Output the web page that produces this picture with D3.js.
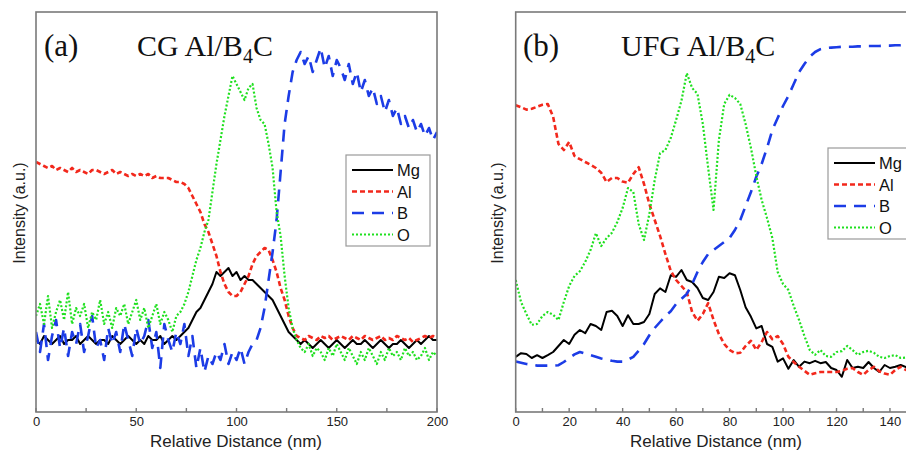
<!DOCTYPE html>
<html><head><meta charset="utf-8">
<script src="https://cdn.jsdelivr.net/npm/d3@7"></script>
<style>html,body{margin:0;padding:0;background:#fff;overflow:hidden}svg{display:block}</style>
</head><body>
<svg id="chart" width="906" height="453"></svg>
<script>
// ---------------- DATA ----------------
const seriesNames = ["Mg", "Al", "B", "O"];
const seriesColors = ["#000000", "#f2281c", "#1c3ce6", "#1fe01f"];

// Panel (a) CG Al/B4C : distance 0..200 nm, step 2 nm
const distA = d3.range(0, 201, 2);
const mgA = [18,17,19,18,17,18,19,17,18,18,19,17,18,19,18,17,18,18,17,19,18,17,18,19,18,17,18,17,19,18,18,19,17,18,19,18,
  19,20,21,23,25,26,28,30,32,35,34,35,36,34,35,33,34,33,33,32,31,30,29,28,26,24,22,20,19,18,
  17,18,17,16,17,18,17,16,17,18,17,16,17,18,17,17,18,17,16,17,18,17,16,17,17,18,17,16,17,18,17,18,19,18,18];
const alA = [62.5,62,61.5,61,61.5,60.5,61,60.5,60,61,60,60.5,60,59.5,60.5,60.5,60,59.5,60,60.5,59.5,60,59.5,59,59.5,59,59.5,59,59.5,58.5,59,58.5,58.5,58.5,58,57.5,
  57.5,57,56,54,52,50,47,45,42,39,35,32,30,29,29,30,32,34,37,39,40,41,40.5,38,35,31,28,24,21,19,
  18.5,18,19,18.5,18,19,18.5,19,18,18.5,19,18.5,18,19,18.5,18,19,18.5,18,18.5,19,18,18.5,18,19,18.5,18,18.5,17.5,18,18.5,19,18.5,19,18.5];
const bA = [20,15,22,13,19,23,16,21,14,20,17,22,15,19,24,16,18,13,21,17,20,15,22,18,14,21,17,19,23,16,20,11,22,18,15,20,
  17,22,14,19,11,16,10,14,12,15,13,17,12,15,13,16,12,15,17,18,21,26,33,40,48,60,72,79,85,88,
  90,87,89,85,88,91,86,89,84,88,86,83,87,82,85,80,83,79,81,77,79,75,78,74,76,72,74,71,73,70,72,69,71,68,70];
const oA = [24,27,22,29,21,25,28,23,30,22,26,24,27,21,25,23,28,22,25,21,26,24,27,22,25,28,23,26,21,24,27,22,25,23,20,24,
  25,27,30,34,38,41,45,48,55,62,68,74,79,84,82,80,78,81,82,76,73,72,67,61,50,44,34,26,21,18,
  16,15,17,14,16,15,13,16,14,17,15,13,16,14,12,15,13,16,14,12,15,13,16,14,15,13,16,14,15,13,14,16,13,15,14];

// Panel (b) UFG Al/B4C : distance 0..150 nm, step 2 nm
const distB = d3.range(0, 151, 2);
const mgB = [13.8,14.7,14.5,13.5,14.2,13.5,14.2,15,16.5,18,17,19.3,20.5,19.7,22,21.5,20.5,25,25.3,24,21.5,24.2,22,22,22.5,24.5,29.5,30.9,30,34.2,33.8,35.5,33,32.5,31,28.5,28,30,33.8,33.5,34.7,34.2,30.5,26.2,23.8,20.9,21.5,17,16.3,12.6,13.4,10.8,13,11.3,12.6,12.2,12.8,12.2,12.5,11,10.5,8.8,13,11,11.3,11,12.5,11,10,11.75,11,11.3,11.75,11.2,11.8,11.5];
const alB = [76.7,76.2,75.6,75.8,76.3,76.8,77,73.8,67,65.5,67.5,64,63.2,62.5,61.8,61,59.8,57.5,58.5,58.5,57.6,57.3,59.5,61.2,57,52,48,44,39.5,35.3,33,31.5,30,25,22.8,24.5,27.2,23,19.5,17,15.5,14.7,14.8,16.5,17.8,15.5,17.5,20,18.2,19,17,13.8,12.5,11.3,10.3,9.3,9.7,10,10,10,10,10.3,10.8,11,10,9.3,10.5,11.3,10.2,9.6,9.3,10.5,11.3,10.5,10.8,11];
const bB = [12.6,12.3,12,11.8,11.6,11.6,11.6,11.6,11.7,12.5,13.5,14.4,15,14.6,14.2,13.8,13.4,13.1,12.8,12.6,12.6,13.1,13.8,15.3,17,19.2,21,22.5,24,25.2,27,28.3,29.5,32,35,37.5,39.5,40.5,41.5,42.5,43.5,45.5,48,51.5,55,58.8,62,66,70.5,73.5,76.5,79,82,85,87,88.8,90,90.7,91,91.1,91.2,91.3,91.3,91.3,91.4,91.4,91.5,91.5,91.5,91.6,91.6,91.7,91.7,91.8,91.8,91.8];
const oB = [33,27.5,24.5,21.8,22,24,25,24.3,23,27.5,31.5,34,35.2,37.5,40.5,44.7,41.5,43.5,44.8,47.5,51,56,55,47,43,49.5,58,64.7,65.5,68.5,73,77.8,84.7,81,79.5,72,61,50.5,68,77,79.3,78.5,77,72,66,59,53,48.5,43.5,35,32,30.5,26.5,23,19,15.5,14.3,15.5,14,13.8,15,15.2,16.5,15.5,14.3,15,15.3,14.8,13.8,13.5,14,14.2,13.5,13.6,14,14];

const ticksA = [0, 50, 100, 150, 200];
const minorA = [25, 75, 125, 175];
const ticksB = [0, 20, 40, 60, 80, 100, 120, 140];
const minorB = [10, 30, 50, 70, 90, 110, 130, 150];

// ---------------- DRAW ----------------
const svg = d3.select("#chart");
const dashes = [null, "5,3", "12,8", "2,2"];
const widths = [2, 2.6, 2.6, 2.2];
const sans = "Liberation Sans, Arial, sans-serif";
const serif = "Liberation Serif, Times New Roman, serif";

function panel(cfg) {
  const g = svg.append("g");
  const x = d3.scaleLinear().domain(cfg.xDomain).range([cfg.left, cfg.right]);
  const y = d3.scaleLinear().domain([0, 100]).range([cfg.bottom, cfg.top]);
  const clipId = "clip" + cfg.id;
  svg.append("clipPath").attr("id", clipId).append("rect")
    .attr("x", cfg.left).attr("y", cfg.top).attr("width", cfg.right - cfg.left).attr("height", cfg.bottom - cfg.top);

  // title texts
  g.append("text").attr("x", cfg.labelX).attr("y", 56).attr("font-family", serif)
    .attr("font-size", 31).attr("fill", "#111").text(cfg.label);
  const t = g.append("text").attr("x", cfg.titleX).attr("y", 56).attr("font-family", serif)
    .attr("font-size", 30).attr("fill", "#111");
  t.append("tspan").text(cfg.title + " Al/B");
  t.append("tspan").attr("font-size", 20).attr("dy", 7).text("4");
  t.append("tspan").attr("dy", -7).text("C");

  // lines
  const lines = g.append("g").attr("clip-path", `url(#${clipId})`);
  cfg.series.forEach((vals, i) => {
    const line = d3.line().x((d, j) => x(cfg.dist[j])).y(d => y(d));
    lines.append("path").datum(vals).attr("d", line).attr("fill", "none")
      .attr("stroke", seriesColors[i]).attr("stroke-width", widths[i])
      .attr("stroke-dasharray", dashes[i]).attr("stroke-linejoin", "round");
  });

  // frame
  g.append("rect").attr("x", cfg.left).attr("y", cfg.top).attr("width", cfg.right - cfg.left).attr("height", cfg.bottom - cfg.top)
    .attr("fill", "none").attr("stroke", "#7a7a7a").attr("stroke-width", 1.6);

  // x axis
  const ax = d3.axisBottom(x).tickValues(cfg.ticks).tickSize(0).tickPadding(5).tickFormat(d3.format("d"));
  const axg = g.append("g").attr("transform", `translate(0,${cfg.bottom})`).call(ax);
  axg.select(".domain").remove();
  axg.selectAll("text").attr("font-family", sans).attr("font-size", 13).attr("fill", "#222");
  cfg.ticks.concat(cfg.minor).forEach(v => {
    if (x(v) > 906) return;
    g.append("line").attr("x1", x(v)).attr("x2", x(v)).attr("y1", cfg.bottom).attr("y2", cfg.bottom - 4)
      .attr("stroke", "#7a7a7a").attr("stroke-width", 1.4);
  });
  g.append("text").attr("x", cfg.xLabelX).attr("y", 447).attr("text-anchor", "middle")
    .attr("font-family", sans).attr("font-size", 17).attr("fill", "#222")
    .text("Relative Distance (nm)");
  g.append("text").attr("transform", `translate(${cfg.yLabelX},213) rotate(-90)`).attr("text-anchor", "middle")
    .attr("font-family", sans).attr("font-size", 16).attr("fill", "#222")
    .text("Intensity (a.u.)");

  // legend
  const L = cfg.legend;
  g.append("rect").attr("x", L.x).attr("y", L.y).attr("width", L.w).attr("height", L.h)
    .attr("fill", "#fff").attr("stroke", "#9a9a9a").attr("stroke-width", 1.2);
  seriesNames.forEach((n, i) => {
    const yy = L.y + 15 + i * 21.5;
    g.append("line").attr("x1", L.x + 6).attr("x2", L.x + 47).attr("y1", yy).attr("y2", yy)
      .attr("stroke", seriesColors[i]).attr("stroke-width", widths[i]).attr("stroke-dasharray", dashes[i]);
    g.append("text").attr("x", L.x + 51).attr("y", yy + 6).attr("font-family", sans)
      .attr("font-size", 16.5).attr("fill", "#111").text(n);
  });
}

panel({ id: "a", left: 36, right: 437, top: 12, bottom: 412, xDomain: [0, 200], dist: distA,
  series: [mgA, alA, bA, oA], ticks: ticksA, minor: minorA, label: "(a)", labelX: 44, title: "CG", titleX: 137,
  xLabelX: 236, yLabelX: 25, legend: { x: 346, y: 155, w: 84, h: 91 } });
panel({ id: "b", left: 515.7, right: 916.7, top: 12, bottom: 412, xDomain: [0, 150], dist: distB,
  series: [mgB, alB, bB, oB], ticks: ticksB, minor: minorB, label: "(b)", labelX: 523, title: "UFG", titleX: 621,
  xLabelX: 716, yLabelX: 503, legend: { x: 828, y: 148, w: 90, h: 91 } });
</script>
</body></html>
